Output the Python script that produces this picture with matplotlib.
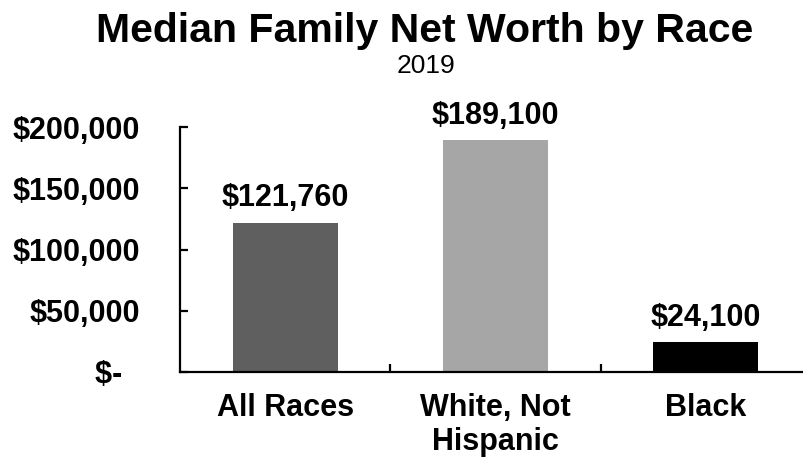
import matplotlib
matplotlib.use('Agg')
import matplotlib.pyplot as plt
import matplotlib.ticker as mticker

# Data
categories = ['All Races', 'White, Not\nHispanic', 'Black']
net_worth = [121760, 189100, 24100]
bar_colors = ['#5f5f5f', '#a6a6a6', '#000000']
y_ticks = [0, 50000, 100000, 150000, 200000]

plt.rcParams['font.family'] = ['Liberation Sans', 'DejaVu Sans']


def dollar_fmt(val, pos):
    if val == 0:
        return '$-  '
    return f'${val:,.0f}'


fig = plt.figure(figsize=(8.04, 4.58), dpi=100)
ax = fig.add_axes([180 / 804, 1 - 372 / 458, 624 / 804, 245 / 458])

x = range(len(categories))
bars = ax.bar(x, net_worth, width=0.5, color=bar_colors)

for b, val in zip(bars, net_worth):
    ax.annotate(f'${val:,.0f}', (b.get_x() + b.get_width() / 2, val),
                xytext=(0, 12), textcoords='offset points',
                ha='center', va='baseline', fontsize=22,
                fontweight='bold')

ax.set_ylim(0, 200000)
ax.set_xlim(-0.5, 2.467)
ax.set_yticks(y_ticks)
ax.yaxis.set_major_formatter(mticker.FuncFormatter(dollar_fmt))
ax.set_xticks(list(x))
ax.set_xticklabels(categories)
ax.set_xticks([0.5, 1.5], minor=True)

ax.spines['top'].set_visible(False)
ax.spines['right'].set_visible(False)
for s in ['left', 'bottom']:
    ax.spines[s].set_linewidth(1.6)

ax.tick_params(axis='y', direction='in', length=6, width=1.6,
               labelsize=22, pad=29)
ax.tick_params(axis='x', which='major', length=0, labelsize=22, pad=15)
ax.tick_params(axis='x', which='minor', direction='in', length=6, width=1.6)
for lbl in ax.get_xticklabels() + ax.get_yticklabels():
    lbl.set_fontweight('bold')

fig.text(425 / 804, 1 - 42 / 458, 'Median Family Net Worth by Race',
         ha='center', va='baseline', fontsize=29.5, fontweight='bold')
fig.text(426 / 804, 1 - 73 / 458, '2019',
         ha='center', va='baseline', fontsize=19)

plt.savefig('out.png', dpi=100)
plt.close()
